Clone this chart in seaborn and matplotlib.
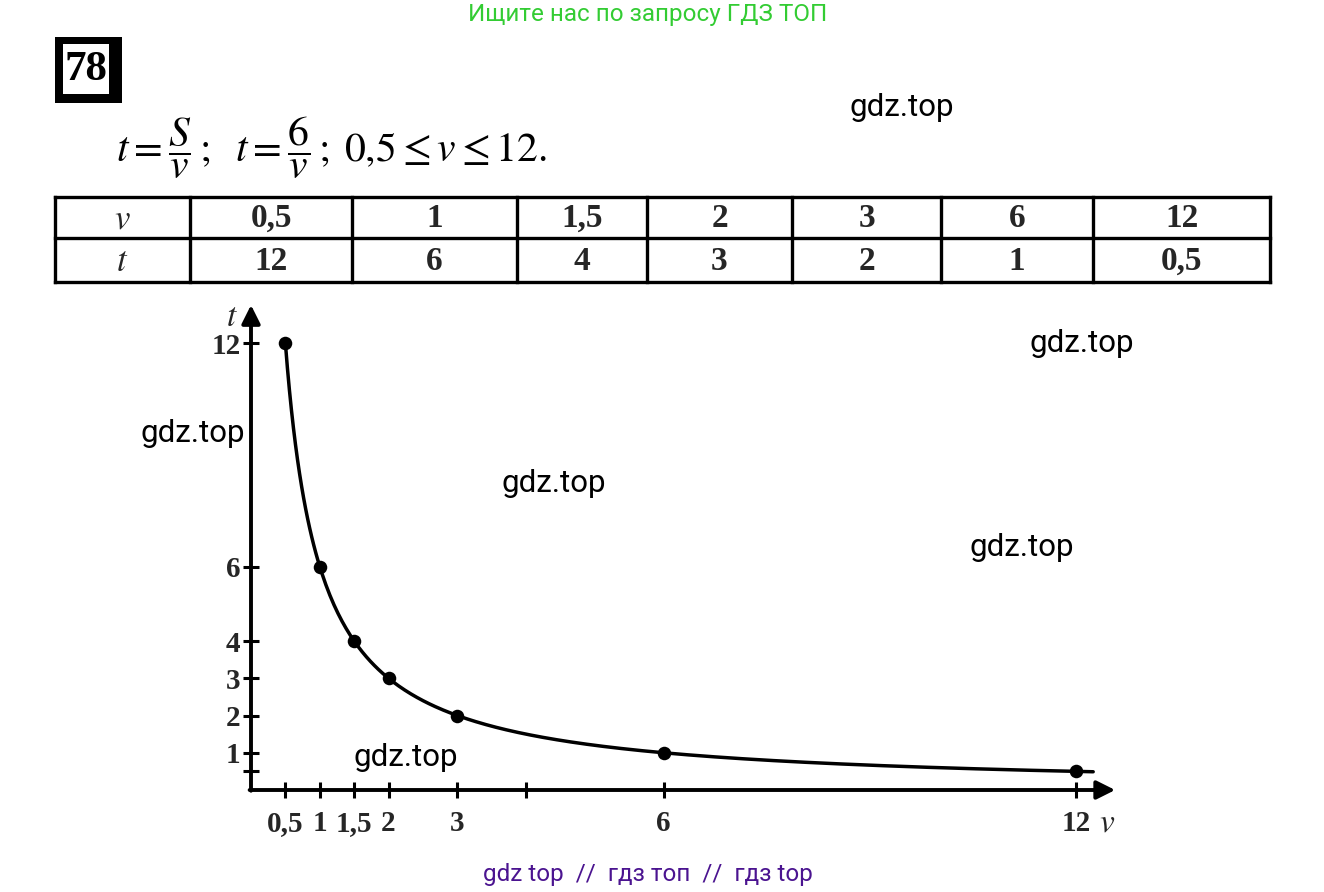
import numpy as np
import pandas as pd
import matplotlib
matplotlib.use("Agg")
import matplotlib.pyplot as plt
from matplotlib.patches import Rectangle
import seaborn as sns

# ---- data ----
S = 6
v_vals = [0.5, 1, 1.5, 2, 3, 6, 12]
t_vals = [12, 6, 4, 3, 2, 1, 0.5]
x_ticks = [0.5, 1, 1.5, 2, 3, 4, 6, 12]
x_tick_labels = ["0,5", "1", "1,5", "2", "3", "", "6", "12"]
y_ticks = [0.5, 1, 2, 3, 4, 6, 12]
y_tick_labels = ["", "1", "2", "3", "4", "6", "12"]
v_curve_end = 12.25

def fmt(x):
    s = f"{x:g}"
    return s.replace(".", ",")

sns.set_style("white")
plt.rcParams["mathtext.fontset"] = "stix"
plt.rcParams["font.family"] = ["DejaVu Sans"]

fig = plt.figure(figsize=(13.24, 8.92), dpi=100)
fig.patch.set_facecolor("white")

# overlay axes in pixel coordinates
ov = fig.add_axes([0, 0, 1, 1])
ov.set_xlim(0, 1324)
ov.set_ylim(892, 0)
ov.axis("off")

SERIF = "Liberation Serif"
SANS = "Roboto"

# header / footer
ov.text(648, 14, "Ищите нас по запросу ГДЗ ТОП", color="#33cc33", fontsize=17.5,
        family=SANS, ha="center", va="center")
ov.text(648, 875, "gdz top  //  гдз топ  //  гдз top", color="#4b1490", fontsize=17.5,
        family=SANS, ha="center", va="center")

# problem number box
ov.add_patch(Rectangle((55, 37), 67, 66, facecolor="black", edgecolor="none"))
ov.add_patch(Rectangle((63, 44), 46, 50, facecolor="white", edgecolor="none"))
ov.text(86, 70, "78", family=SERIF, fontsize=31, fontweight="bold",
        ha="center", va="center", color="black")

# formula line
ov.text(116, 148, r"$t=\dfrac{S}{v}\,;\;\ t=\dfrac{6}{v}\,;\;0{,}5\leq v\leq 12.$",
        fontsize=30, ha="left", va="center", color="black")

# table
col_edges = [55, 190, 352, 517, 647, 792, 941, 1093, 1270]
row_edges = [197, 238, 282]
for y in row_edges:
    ov.plot([col_edges[0], col_edges[-1]], [y, y], color="black", lw=2.4,
            solid_capstyle="projecting")
for x in col_edges:
    ov.plot([x, x], [row_edges[0], row_edges[-1]], color="black", lw=2.4,
            solid_capstyle="projecting")
row_names = ["v", "t"]
rows = [v_vals, t_vals]
for r in range(2):
    yc = (row_edges[r] + row_edges[r + 1]) / 2
    ov.text((col_edges[0] + col_edges[1]) / 2, yc + 1, rf"$\mathbf{{{row_names[r]}}}$" if False else f"${row_names[r]}$",
            fontsize=25, ha="center", va="center")
    for c, val in enumerate(rows[r]):
        xc = (col_edges[c + 1] + col_edges[c + 2]) / 2
        ov.text(xc, yc + 1, fmt(val), family=SERIF, fontsize=24, fontweight="bold",
                ha="center", va="center")

# watermarks
for (wx, wy) in [(902, 108), (1082, 343), (193, 434), (554, 484), (1022, 548), (406, 757)]:
    ov.text(wx, wy, "gdz.top", family=SANS, fontsize=22.5, ha="center", va="center",
            color="black", zorder=10)

# ---- graph axes ----
x0_px, y0_px = 251, 790
px_x, px_y = 68.75, 37.25
xmax, ymax = 12.55, 13.0
ax = fig.add_axes([x0_px / 1324, (892 - y0_px) / 892,
                   xmax * px_x / 1324, ymax * px_y / 892])
ax.set_xlim(0, xmax)
ax.set_ylim(0, ymax)
ax.patch.set_alpha(0)
for sp in ax.spines.values():
    sp.set_visible(False)

v_dense = np.linspace(v_vals[0], v_curve_end, 400)
curve = pd.DataFrame({"v": v_dense, "t": S / v_dense})
pts = pd.DataFrame({"v": v_vals, "t": t_vals})
sns.lineplot(data=curve, x="v", y="t", ax=ax, color="black", lw=2.5, clip_on=False)
sns.scatterplot(data=pts, x="v", y="t", ax=ax, color="black", s=95,
                edgecolor="black", linewidth=0, clip_on=False, zorder=5)

# axes with arrows
ax.annotate("", xy=(0, ymax + 0.02), xytext=(0, -0.02),
            arrowprops=dict(arrowstyle="-|>", lw=2.8, color="black",
                            mutation_scale=28, shrinkA=0, shrinkB=0),
            annotation_clip=False)
ax.annotate("", xy=(xmax + 0.02, 0), xytext=(-0.02, 0),
            arrowprops=dict(arrowstyle="-|>", lw=2.8, color="black",
                            mutation_scale=28, shrinkA=0, shrinkB=0),
            annotation_clip=False)

ax.set_xticks(x_ticks)
ax.set_xticklabels(x_tick_labels, family=SERIF, fontsize=21, fontweight="bold")
ax.set_yticks(y_ticks)
ax.set_yticklabels(y_tick_labels, family=SERIF, fontsize=21, fontweight="bold")
ax.tick_params(axis="both", direction="inout", length=11, width=2.2, color="black",
               bottom=True, left=True)
ax.tick_params(axis="x", pad=9)
ax.tick_params(axis="y", pad=2)
ax.set_xlabel("")
ax.set_ylabel("")

ax.text(-0.28, ymax - 0.3, "$t$", fontsize=24, ha="center", va="center")
ax.text(12.45, -0.85, "$v$", fontsize=24, ha="center", va="center")

fig.savefig("out.png", dpi=100, facecolor="white")
